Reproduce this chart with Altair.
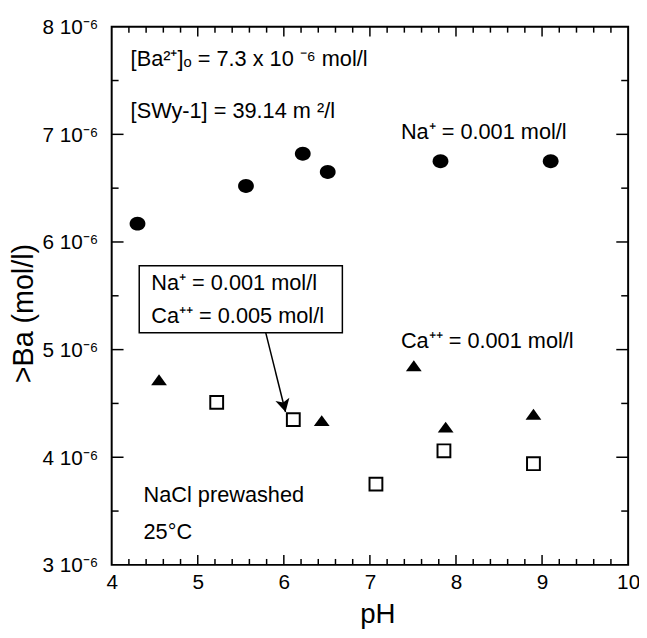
import altair as alt
import pandas as pd

# ---- data (pH, >Ba in mol/l) ----
ph_na = [4.30, 5.56, 6.22, 6.51, 7.82, 9.10]
ba_na = [6.17e-6, 6.52e-6, 6.82e-6, 6.65e-6, 6.75e-6, 6.75e-6]

ph_ca1 = [4.55, 6.44, 7.51, 7.88, 8.90]
ba_ca1 = [4.72e-6, 4.34e-6, 4.85e-6, 4.28e-6, 4.40e-6]

ph_ca5 = [5.22, 6.11, 7.07, 7.86, 8.90]
ba_ca5 = [4.51e-6, 4.35e-6, 3.75e-6, 4.06e-6, 3.94e-6]

# axis ticks
x_labels = [4, 5, 6, 7, 8, 9, 10]
y_labels = [3e-6, 4e-6, 5e-6, 6e-6, 7e-6, 8e-6]
x_major_ticks = [5, 6, 7, 8, 9]
x_minor_ticks = [4.2, 4.4, 4.6, 4.8, 5.2, 5.4, 5.6, 5.8, 6.2, 6.4, 6.6, 6.8,
                 7.2, 7.4, 7.6, 7.8, 8.2, 8.4, 8.6, 8.8, 9.2, 9.4, 9.6, 9.8]
y_major_ticks = [4e-6, 5e-6, 6e-6, 7e-6]
y_minor_ticks = [3.5e-6, 4.5e-6, 5.5e-6, 6.5e-6, 7.5e-6]

# annotations
ann_text = ["[Ba²⁺]ₒ = 7.3 x 10 ⁻⁶ mol/l", "[SWy-1] = 39.14 m ²/l",
            "Na⁺ = 0.001 mol/l", "Ca⁺⁺ = 0.001 mol/l",
            "NaCl prewashed", "25°C"]
ann_x = [4.22, 4.22, 7.36, 7.36, 4.37, 4.37]
ann_y = [7.633e-6, 7.156e-6, 6.954e-6, 5.018e-6, 3.587e-6, 3.239e-6]

box_text = ["Na⁺ = 0.001 mol/l", "Ca⁺⁺ = 0.005 mol/l"]
box_text_x = [4.46, 4.46]
box_text_y = [5.550e-6, 5.248e-6]
box_x = [4.32, 6.68]
box_y = [5.156e-6, 5.780e-6]
arrow_x = [5.79, 6.02]
arrow_y = [5.156e-6, 4.42e-6]

W, H = 523, 545
FONT = "Liberation Sans"

xscale = alt.Scale(domain=[4, 10], nice=False, zero=False)
yscale = alt.Scale(domain=[3e-6, 8e-6], nice=False, zero=False)

xaxis = alt.Axis(values=x_labels, format="d", labelFontSize=21, labelFont=FONT,
                 labelPadding=7, labelFlush=False, ticks=False, domain=False,
                 grid=False, title="pH", titleFontSize=28, titleFont=FONT,
                 titleFontWeight="normal", titleX=269, titleY=58,
                 titleBaseline="alphabetic", titleAlign="center",
                 labelColor="black", titleColor="black")
yaxis = alt.Axis(values=y_labels, labelExpr="round(datum.value*1e6) + ' 10⁻⁶'",
                 labelFontSize=21, labelFont=FONT, labelPadding=14, labelOffset=1,
                 ticks=False, domain=False, grid=False, title=">Ba (mol/l)",
                 titleFontSize=29, titleFont=FONT, titleFontWeight="normal",
                 titleAngle=270, titleX=-89, titleY=290, titleAlign="center",
                 titleBaseline="middle", labelColor="black", titleColor="black")


def X(field):
    return alt.X(field, scale=xscale, axis=xaxis)


def Y(field):
    return alt.Y(field, scale=yscale, axis=yaxis)


df_na = pd.DataFrame({"pH": ph_na, "Ba": ba_na})
df_ca1 = pd.DataFrame({"pH": ph_ca1, "Ba": ba_ca1})
df_ca5 = pd.DataFrame({"pH": ph_ca5, "Ba": ba_ca5})

ellipse = "M-1,0A1,0.875,0,1,0,1,0A1,0.875,0,1,0,-1,0Z"
tri = "M0,-0.69L1,0.69L-1,0.69Z"

circles = alt.Chart(df_na).mark_point(shape=ellipse, size=256, filled=True,
                                      color="black", opacity=1).encode(
    x=X("pH:Q"), y=Y("Ba:Q"))

triangles = alt.Chart(df_ca1).mark_point(shape=tri, size=256, filled=True,
                                         color="black", opacity=1).encode(
    x=X("pH:Q"), y=Y("Ba:Q"))

squares = alt.Chart(df_ca5).mark_point(shape="square", size=169, filled=False,
                                       stroke="black", strokeWidth=2, opacity=1).encode(
    x=X("pH:Q"), y=Y("Ba:Q"))


# ticks (inward, on all four sides)
def xticks(vals, length):
    d = pd.DataFrame({"pH": vals})
    bottom = alt.Chart(d).mark_rule(color="black", strokeWidth=1.5).encode(
        x=X("pH:Q"), y=alt.value(H), y2=alt.value(H - length))
    top = alt.Chart(d).mark_rule(color="black", strokeWidth=1.5).encode(
        x=X("pH:Q"), y=alt.value(0), y2=alt.value(length))
    return [bottom, top]


def yticks(vals, length):
    d = pd.DataFrame({"Ba": vals})
    left = alt.Chart(d).mark_rule(color="black", strokeWidth=1.5).encode(
        y=Y("Ba:Q"), x=alt.value(0), x2=alt.value(length))
    right = alt.Chart(d).mark_rule(color="black", strokeWidth=1.5).encode(
        y=Y("Ba:Q"), x=alt.value(W), x2=alt.value(W - length))
    return [left, right]


tick_layers = (xticks(x_major_ticks, 10) + xticks(x_minor_ticks, 6)
               + yticks(y_major_ticks, 12) + yticks(y_minor_ticks, 7))

ann = alt.Chart(pd.DataFrame({"pH": ann_x, "Ba": ann_y, "text": ann_text})).mark_text(
    align="left", baseline="alphabetic", fontSize=22, font=FONT, color="black").encode(
    x=X("pH:Q"), y=Y("Ba:Q"), text="text:N")

box = alt.Chart(pd.DataFrame({"pH": [box_x[0]], "pH2": [box_x[1]],
                              "Ba": [box_y[0]], "Ba2": [box_y[1]]})).mark_rect(
    fill="white", stroke="black", strokeWidth=1.5).encode(
    x=X("pH:Q"), x2="pH2:Q", y=Y("Ba:Q"), y2="Ba2:Q")

btext = alt.Chart(pd.DataFrame({"pH": box_text_x, "Ba": box_text_y, "text": box_text})).mark_text(
    align="left", baseline="alphabetic", fontSize=22, font=FONT, color="black").encode(
    x=X("pH:Q"), y=Y("Ba:Q"), text="text:N")

arrow = alt.Chart(pd.DataFrame({"pH": [arrow_x[0]], "pH2": [arrow_x[1]],
                                "Ba": [arrow_y[0]], "Ba2": [arrow_y[1]]})).mark_rule(
    color="black", strokeWidth=1.5).encode(
    x=X("pH:Q"), x2="pH2:Q", y=Y("Ba:Q"), y2="Ba2:Q")

head = alt.Chart(pd.DataFrame({"pH": [arrow_x[1]], "Ba": [arrow_y[1]]})).mark_point(
    shape="M-0.55,-1L0,0L0.55,-1L0,-0.75Z", size=700, filled=True, color="black",
    strokeWidth=1, angle=346, opacity=1).encode(
    x=X("pH:Q"), y=Y("Ba:Q"))

chart = alt.layer(circles, triangles, squares, *tick_layers, ann, box, btext,
                  arrow, head).properties(
    width=W, height=H,
    autosize=alt.AutoSizeParams(type="none"),
    padding={"left": 105, "top": 15, "right": 11, "bottom": 62},
    background="white",
).configure_view(stroke="black", strokeWidth=2)

chart.save("out.html", embed_options={"renderer": "svg", "actions": False})
